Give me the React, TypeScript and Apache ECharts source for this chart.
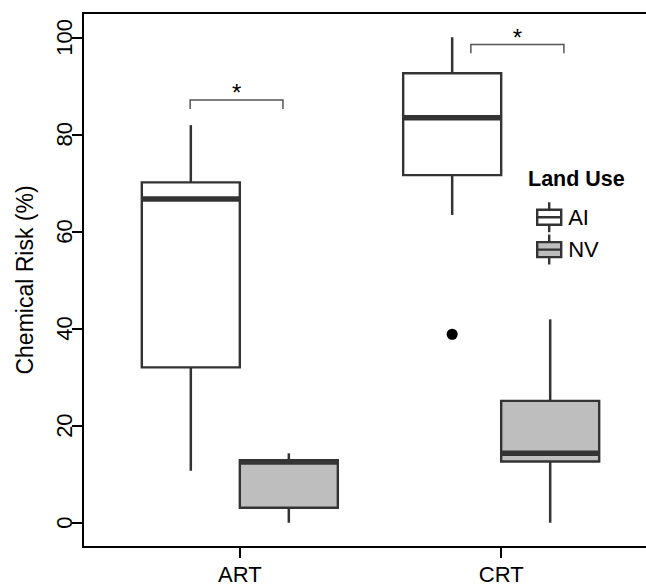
import React, { useEffect, useRef } from "react";
import * as echarts from "echarts";

const FONT = '"Liberation Sans", Arial, Helvetica, sans-serif';

// Data
const categories = ["ART", "CRT"];
const landUse = ["AI", "NV"];
// each box: [lower whisker, Q1, median, Q3, upper whisker]
const aiBoxes = [
  [10.7, 32.0, 66.7, 70.1, 81.9],
  [63.4, 71.6, 83.4, 92.6, 100],
];
const nvBoxes = [
  [0, 3.1, 12.5, 12.9, 14.3],
  [0, 12.6, 14.3, 25.1, 41.9],
];
// outliers
const outlierCategory = [1];
const outlierGroup = [0];
const outlierValue = [38.8];
// y ticks
const yTicks = [0, 20, 40, 60, 80, 100];
// significance brackets (x in axis units, y in %)
const sigLabels = ["*", "*"];
const bracketLeft = [0.81, 1.884];
const bracketRight = [1.165, 2.24];
const bracketTop = [87.1, 98.5];
const bracketFoot = [85.2, 96.7];
const starY = [88.6, 99.9];

const BOX_W = 0.375;
const OFFSETS = [-0.1875, 0.1875];
const FILLS = ["#FFFFFF", "#BEBEBE"];
const STROKE = "#333333";

const BOX_ICON =
  "path://M12,0L12,7.5M0,7.5L24,7.5L24,22.5L0,22.5ZM0,15L24,15M12,22.5L12,30";

function boxSeries(name: string, boxes: number[][], gi: number) {
  return {
    type: "custom",
    name,
    coordinateSystem: "cartesian2d",
    data: boxes.map((b, i) => [i + 1, ...b]),
    encode: { x: 0, y: [1, 2, 3, 4, 5] },
    z: 2,
    renderItem: (params: any, api: any) => {
      const x = api.value(0) + OFFSETS[gi];
      const low = api.value(1);
      const q1 = api.value(2);
      const med = api.value(3);
      const q3 = api.value(4);
      const high = api.value(5);
      const tl = api.coord([x - BOX_W / 2, q3]);
      const br = api.coord([x + BOX_W / 2, q1]);
      const pHigh = api.coord([x, high]);
      const pQ3 = api.coord([x, q3]);
      const pQ1 = api.coord([x, q1]);
      const pLow = api.coord([x, low]);
      const mL = api.coord([x - BOX_W / 2, med]);
      const mR = api.coord([x + BOX_W / 2, med]);
      return {
        type: "group",
        children: [
          {
            type: "line",
            shape: { x1: pHigh[0], y1: pHigh[1], x2: pQ3[0], y2: pQ3[1] },
            style: { stroke: STROKE, lineWidth: 2.5 },
          },
          {
            type: "line",
            shape: { x1: pQ1[0], y1: pQ1[1], x2: pLow[0], y2: pLow[1] },
            style: { stroke: STROKE, lineWidth: 2.5 },
          },
          {
            type: "rect",
            shape: { x: tl[0], y: tl[1], width: br[0] - tl[0], height: br[1] - tl[1] },
            style: { fill: FILLS[gi], stroke: STROKE, lineWidth: 2.4 },
          },
          {
            type: "line",
            shape: { x1: mL[0], y1: mL[1], x2: mR[0], y2: mR[1] },
            style: { stroke: STROKE, lineWidth: 5.5 },
          },
        ],
      };
    },
  };
}

export default function App() {
  const ref = useRef<HTMLDivElement>(null);
  useEffect(() => {
    if (!ref.current) return;
    const chart = echarts.init(ref.current, undefined, { renderer: "svg" });
    const outlierData = outlierValue.map((v, i) => [
      outlierCategory[i] + 1 + OFFSETS[outlierGroup[i]],
      v,
    ]);
    const bracketData = sigLabels.map((_, i) => [
      bracketLeft[i],
      bracketRight[i],
      bracketTop[i],
      bracketFoot[i],
      starY[i],
    ]);
    const option: any = {
      animation: false,
      backgroundColor: "#FFFFFF",
      grid: {
        left: 83,
        top: 13,
        right: -12,
        bottom: 38,
        show: true,
        borderColor: "#000",
        borderWidth: 2,
        containLabel: false,
        outerBoundsMode: "none",
      },
      xAxis: {
        type: "value",
        min: 0.4,
        max: 2.6,
        axisLine: { show: true, onZero: false, lineStyle: { color: "#000", width: 2 } },
        axisTick: {
          show: true,
          customValues: [1, 2],
          length: 11,
          lineStyle: { color: "#000", width: 2 },
        },
        axisLabel: {
          customValues: [1, 2],
          formatter: (v: number) => categories[Math.round(v) - 1],
          fontSize: 22,
          color: "#000",
          margin: 16,
          fontFamily: FONT,
        },
        splitLine: { show: false },
      },
      yAxis: {
        type: "value",
        min: -5,
        max: 105,
        name: "Chemical Risk (%)",
        nameLocation: "middle",
        nameRotate: 90,
        nameGap: 47,
        nameTextStyle: { fontSize: 23, color: "#000", fontFamily: FONT },
        axisLine: { show: true, onZero: false, lineStyle: { color: "#000", width: 2 } },
        axisTick: {
          show: true,
          customValues: yTicks,
          length: 11,
          lineStyle: { color: "#000", width: 2 },
        },
        axisLabel: {
          customValues: yTicks,
          rotate: 90,
          fontSize: 22,
          color: "#000",
          margin: 8,
          fontFamily: FONT,
        },
        splitLine: { show: false },
      },
      legend: {
        orient: "vertical",
        left: 531,
        top: 196,
        itemWidth: 24,
        itemHeight: 30,
        itemGap: 0,
        selectedMode: false,
        textStyle: { fontSize: 22, color: "#000", fontFamily: FONT, padding: [0, 0, 0, 2] },
        data: landUse.map((n, i) => ({
          name: n,
          icon: BOX_ICON,
          itemStyle: { color: FILLS[i], borderColor: STROKE, borderWidth: 2.4 },
        })),
      },
      graphic: [
        {
          type: "text",
          x: 528,
          y: 179,
          style: {
            text: "Land Use",
            fontSize: 21.5,
            fontWeight: "bold",
            fontFamily: FONT,
            fill: "#000",
            verticalAlign: "middle",
            align: "left",
          },
        },
      ],
      series: [
        boxSeries(landUse[0], aiBoxes, 0),
        boxSeries(landUse[1], nvBoxes, 1),
        {
          type: "scatter",
          name: "outliers",
          data: outlierData,
          symbolSize: 11,
          itemStyle: { color: "#000", opacity: 1 },
          z: 3,
        },
        {
          type: "custom",
          name: "significance",
          coordinateSystem: "cartesian2d",
          data: bracketData,
          encode: { x: [0, 1], y: [2, 3, 4] },
          z: 3,
          renderItem: (params: any, api: any) => {
            const l = api.value(0);
            const r = api.value(1);
            const t = api.value(2);
            const f = api.value(3);
            const s = api.value(4);
            const p1 = api.coord([l, f]);
            const p2 = api.coord([l, t]);
            const p3 = api.coord([r, t]);
            const p4 = api.coord([r, f]);
            const ps = api.coord([(l + r) / 2, s]);
            return {
              type: "group",
              children: [
                {
                  type: "polyline",
                  shape: { points: [p1, p2, p3, p4] },
                  style: { stroke: "#555", lineWidth: 1.5, fill: "none" },
                },
                {
                  type: "text",
                  x: ps[0],
                  y: ps[1],
                  style: {
                    text: sigLabels[params.dataIndex],
                    fontSize: 24,
                    fontFamily: FONT,
                    fill: "#000",
                    align: "center",
                    verticalAlign: "middle",
                  },
                },
              ],
            };
          },
        },
      ],
    };
    chart.setOption(option);
    return () => chart.dispose();
  }, []);
  return (
    <div
      ref={ref}
      style={{ position: "fixed", left: 0, top: 0, width: 646, height: 585 }}
    />
  );
}
